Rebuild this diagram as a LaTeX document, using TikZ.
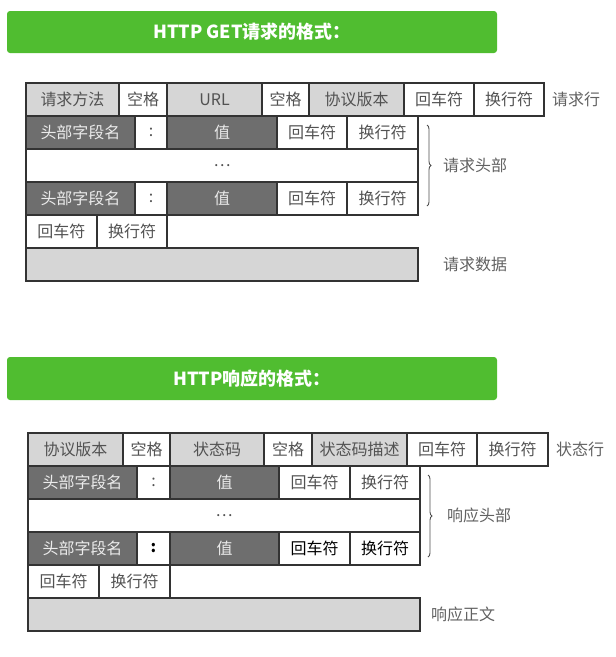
\documentclass[tikz,border=0pt]{standalone}
\usepackage{fontspec}
\setmainfont{Noto Sans CJK SC}
\usetikzlibrary{positioning, decorations.pathreplacing}
\definecolor{bargreen}{RGB}{80,189,48}

\begin{document}
\begin{tikzpicture}[
        x=1pt, y=-1pt,
        cell/.style={
                draw=black!80,
                line width=1.1pt,
                minimum height=33pt,
                inner sep=0pt,
                outer sep=0pt,
                text=black!68,
                font=\fontsize{16}{18}\selectfont
            },
        plain/.style={cell, fill=white},
        light/.style={cell, fill=black!16},
        dark/.style={cell, fill=black!57, text=black!8},
        banner/.style={
                fill=bargreen,
                rounded corners=3pt,
                minimum width=490pt,
                minimum height=42pt,
                text=white,
                font=\fontsize{18}{20}\selectfont\bfseries
            },
        note/.style={inner sep=0pt, text=black!62, font=\fontsize{16}{18}\selectfont},
        brace/.style={decorate, decoration={brace, amplitude=4pt}, draw=black!70, line width=0.9pt}
    ]
    \useasboundingbox (0,0) rectangle (616,657);

    % request
    \node[banner] (get_bar) at (252,32) {HTTP GET请求的格式：};

    \node[light, minimum width=93pt, anchor=north west] (get_method) at (26,83) {请求方法};
    \node[plain, minimum width=48pt, right=0pt of get_method] (get_sp1) {空格};
    \node[light, minimum width=95pt, right=0pt of get_sp1] (get_url) {URL};
    \node[plain, minimum width=47pt, right=0pt of get_url] (get_sp2) {空格};
    \node[light, minimum width=95pt, right=0pt of get_sp2] (get_ver) {协议版本};
    \node[plain, minimum width=70pt, right=0pt of get_ver] (get_cr) {回车符};
    \node[plain, minimum width=70pt, right=0pt of get_cr] (get_lf) {换行符};

    \node[dark, minimum width=109pt, anchor=north west] (get_key1) at (get_method.south west) {头部字段名};
    \node[plain, minimum width=32pt, right=0pt of get_key1] (get_colon1) {:};
    \node[dark, minimum width=110pt, right=0pt of get_colon1] (get_val1) {值};
    \node[plain, minimum width=70pt, right=0pt of get_val1] (get_cr1) {回车符};
    \node[plain, minimum width=71pt, right=0pt of get_cr1] (get_lf1) {换行符};

    \node[plain, minimum width=392pt, anchor=north west] (get_dots) at (get_key1.south west) {…};

    \node[dark, minimum width=109pt, anchor=north west] (get_key2) at (get_dots.south west) {头部字段名};
    \node[plain, minimum width=32pt, right=0pt of get_key2] (get_colon2) {:};
    \node[dark, minimum width=110pt, right=0pt of get_colon2] (get_val2) {值};
    \node[plain, minimum width=70pt, right=0pt of get_val2] (get_cr2) {回车符};
    \node[plain, minimum width=71pt, right=0pt of get_cr2] (get_lf2) {换行符};

    \node[plain, minimum width=71pt, anchor=north west] (get_cr3) at (get_key2.south west) {回车符};
    \node[plain, minimum width=70pt, right=0pt of get_cr3] (get_lf3) {换行符};
    \node[light, minimum width=392pt, anchor=north west] (get_body) at (get_cr3.south west) {};

    \node[note, right=8pt of get_lf] (get_line_text) {请求行};
    \node[note, right=25pt of get_dots] (get_head_text) {请求头部};
    \node[note, right=25pt of get_body] (get_body_text) {请求数据};
    \draw[brace] ([shift={(9,9)}]get_lf1.north east) -- ([shift={(9,-9)}]get_lf2.south east);

    % response
    \node[banner, minimum height=43pt] (resp_bar) at (252,378.5) {HTTP响应的格式：};

    \node[light, minimum width=95pt, anchor=north west] (resp_ver) at (28,433) {协议版本};
    \node[plain, minimum width=47pt, right=0pt of resp_ver] (resp_sp1) {空格};
    \node[light, minimum width=94pt, right=0pt of resp_sp1] (resp_code) {状态码};
    \node[plain, minimum width=48pt, right=0pt of resp_code] (resp_sp2) {空格};
    \node[light, minimum width=95pt, right=0pt of resp_sp2] (resp_desc) {状态码描述};
    \node[plain, minimum width=70pt, right=0pt of resp_desc] (resp_cr) {回车符};
    \node[plain, minimum width=71pt, right=0pt of resp_cr] (resp_lf) {换行符};

    \node[dark, minimum width=109pt, anchor=north west] (resp_key1) at (resp_ver.south west) {头部字段名};
    \node[plain, minimum width=33pt, right=0pt of resp_key1] (resp_colon1) {:};
    \node[dark, minimum width=109pt, right=0pt of resp_colon1] (resp_val1) {值};
    \node[plain, minimum width=71pt, right=0pt of resp_val1] (resp_cr1) {回车符};
    \node[plain, minimum width=70pt, right=0pt of resp_cr1] (resp_lf1) {换行符};

    \node[plain, minimum width=392pt, anchor=north west] (resp_dots) at (resp_key1.south west) {…};

    \node[dark, minimum width=109pt, anchor=north west] (resp_key2) at (resp_dots.south west) {头部字段名};
    \node[plain, minimum width=33pt, right=0pt of resp_key2, text=black, font=\fontsize{16}{18}\selectfont\bfseries] (resp_colon2) {:};
    \node[dark, minimum width=109pt, right=0pt of resp_colon2] (resp_val2) {值};
    \node[plain, minimum width=71pt, right=0pt of resp_val2, text=black] (resp_cr2) {回车符};
    \node[plain, minimum width=70pt, right=0pt of resp_cr2, text=black] (resp_lf2) {换行符};

    \node[plain, minimum width=71pt, anchor=north west] (resp_cr3) at (resp_key2.south west) {回车符};
    \node[plain, minimum width=71pt, right=0pt of resp_cr3] (resp_lf3) {换行符};
    \node[light, minimum width=392pt, anchor=north west] (resp_body) at (resp_cr3.south west) {};

    \node[note, right=8pt of resp_lf] (resp_line_text) {状态行};
    \node[note, right=27pt of resp_dots] (resp_head_text) {响应头部};
    \node[note, right=11pt of resp_body] (resp_body_text) {响应正文};
    \draw[brace] ([shift={(8,9)}]resp_lf1.north east) -- ([shift={(8,-8)}]resp_lf2.south east);
\end{tikzpicture}
\end{document}
